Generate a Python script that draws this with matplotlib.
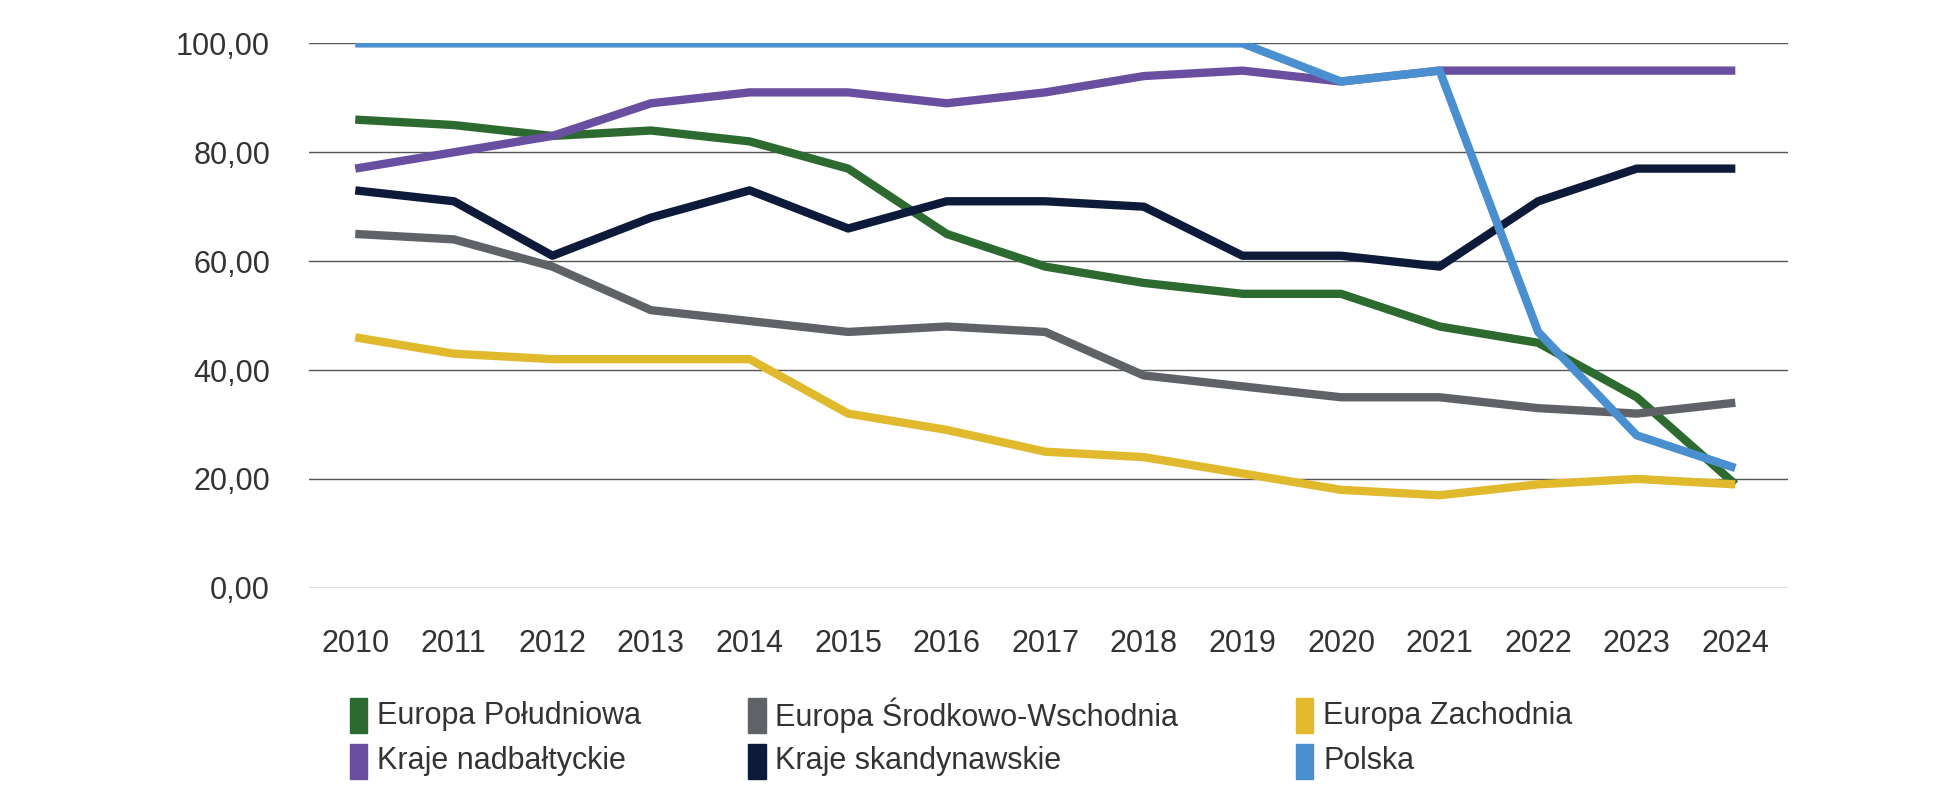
import matplotlib.pyplot as plt
from matplotlib.patches import Rectangle

plt.rcParams['font.family'] = ['Liberation Sans Narrow', 'Liberation Sans', 'DejaVu Sans']

years = list(range(2010, 2025))
names = ["Europa Południowa", "Europa Środkowo-Wschodnia", "Europa Zachodnia",
         "Kraje nadbałtyckie", "Kraje skandynawskie", "Polska"]
colors = ["#2d6a30", "#5f6266", "#e0b92c", "#6a4fa0", "#0d1a3a", "#4a90d0"]
poludniowa = [86, 85, 83, 84, 82, 77, 65, 59, 56, 54, 54, 48, 45, 35, 19]
srodkowo = [65, 64, 59, 51, 49, 47, 48, 47, 39, 37, 35, 35, 33, 32, 34]
zachodnia = [46, 43, 42, 42, 42, 32, 29, 25, 24, 21, 18, 17, 19, 20, 19]
nadbaltyckie = [77, 80, 83, 89, 91, 91, 89, 91, 94, 95, 93, 95, 95, 95, 95]
skandynawskie = [73, 71, 61, 68, 73, 66, 71, 71, 70, 61, 61, 59, 71, 77, 77]
polska = [100, 100, 100, 100, 100, 100, 100, 100, 100, 100, 93, 95, 47, 28, 22]
series = [poludniowa, srodkowo, zachodnia, nadbaltyckie, skandynawskie, polska]

fig = plt.figure(figsize=(19.43, 7.89), dpi=100)
ax = fig.add_axes([0.159, 0.255, 0.761, 0.69])
for y in range(0, 101, 20):
    ax.axhline(y, color="#555555", lw=1, zorder=0)
for s, c in zip(series, colors):
    ax.plot(years, s, color=c, lw=6, solid_capstyle="butt", zorder=2)
ax.set_xlim(2009.53, 2024.53)
ax.set_ylim(0, 100)
ax.set_yticks(range(0, 101, 20))
ax.set_yticklabels([f"{v},00" for v in range(0, 101, 20)])
ax.set_xticks(years)
for sp in ax.spines.values():
    sp.set_visible(False)
ax.tick_params(length=0, labelsize=22, colors="#333333")
ax.tick_params(axis="x", pad=30)
ax.tick_params(axis="y", pad=28)

cols = [0.18, 0.385, 0.667]
rows = [0.093, 0.035]
for i, (n, c) in enumerate(zip(names, colors)):
    x, y = cols[i % 3], rows[i // 3]
    fig.patches.append(Rectangle((x, y - 0.022), 0.009, 0.044, color=c,
                                 transform=fig.transFigure))
    fig.text(x + 0.014, y, n, fontsize=22, va="center", color="#333333")

fig.savefig("out.png", dpi=100)
